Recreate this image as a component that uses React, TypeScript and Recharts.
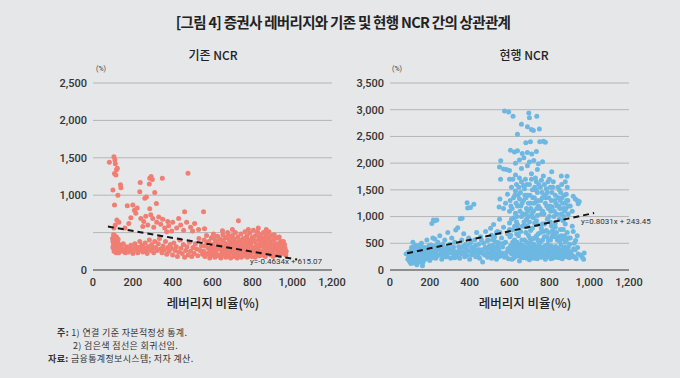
import React from "react";
import {
  ScatterChart,
  Scatter,
  XAxis,
  YAxis,
  CartesianGrid,
} from "recharts";

// 레버리지 비율(%) vs 기존 NCR(%)
const oldNcrPoints: [number, number][] = [
  [82, 1440], [105, 1515], [110, 1470], [112, 1420], [118, 1340], [108, 1290], [115, 1270], [122, 1360],
  [100, 1070], [125, 1000], [140, 1100], [138, 1140], [108, 870], [120, 670], [112, 600], [130, 640], [105, 560],
  [172, 860], [200, 870], [208, 800], [222, 830], [215, 760], [235, 1047], [237, 1170], [260, 960], [268, 975],
  [285, 1227], [292, 1250], [298, 1210], [283, 1150], [310, 1035], [318, 890], [285, 820], [290, 740], [300, 690],
  [330, 710], [348, 1225], [477, 1292], [460, 780], [555, 780], [730, 660], [650, 525], [240, 690], [255, 650],
  [265, 720], [275, 600], [320, 640], [340, 610], [360, 560], [380, 590], [400, 640], [420, 560], [440, 600],
  [470, 640], [490, 570], [510, 620], [530, 540], [250, 580], [350, 680], [375, 650], [395, 520], [455, 530],
  [500, 520], [430, 690], [190, 700], [180, 620], [160, 560], [305, 570], [370, 510],
  [98, 420], [100, 380], [102, 330], [104, 290], [106, 250], [108, 460], [110, 400], [112, 350], [114, 300],
  [115, 260], [116, 230], [118, 440], [120, 370], [121, 320], [123, 280], [125, 240], [126, 410], [128, 350],
  [130, 300], [132, 270], [103, 470], [107, 350], [113, 420], [119, 270], [124, 390], [129, 230], [134, 330],
  [136, 280], [100, 300], [111, 250],
  [142, 300], [148, 250], [152, 350], [158, 270], [162, 230], [168, 310], [172, 260], [178, 240], [185, 290],
  [190, 330], [195, 260], [200, 220], [205, 280], [210, 350], [215, 310], [220, 260], [225, 230], [230, 300],
  [235, 380], [240, 270], [245, 330], [250, 240], [255, 300], [262, 360], [268, 270], [272, 220], [278, 310],
  [283, 400], [290, 260], [295, 340], [300, 290],
  [305, 230], [310, 380], [316, 300], [322, 260], [328, 350], [334, 420], [340, 280], [346, 230], [352, 320],
  [358, 270], [364, 380], [370, 210], [376, 300], [382, 250], [388, 340], [394, 290], [400, 200], [406, 360],
  [412, 260], [418, 310], [424, 180], [430, 240], [436, 400], [442, 290], [448, 220], [454, 340], [460, 170],
  [466, 260], [472, 310], [478, 200], [484, 370], [490, 250], [496, 180], [502, 300], [508, 220], [514, 350],
  [520, 280], [526, 190], [532, 420], [538, 260], [544, 320], [550, 210],
  [555, 250], [558, 400], [562, 180], [566, 330], [570, 460], [574, 220], [578, 290], [582, 380], [586, 160],
  [590, 270], [594, 430], [598, 200], [602, 340], [605, 480], [608, 250], [612, 170], [615, 390], [618, 300],
  [622, 210], [625, 450], [628, 350], [632, 190], [635, 280], [638, 410], [642, 160], [645, 320], [648, 240],
  [652, 470], [655, 380], [658, 200], [661, 290], [664, 430], [667, 170], [670, 350], [673, 250], [676, 500],
  [679, 310], [682, 190], [685, 400], [688, 270], [691, 160], [694, 360], [697, 230], [700, 460],
  [703, 320], [706, 180], [709, 410], [712, 270], [715, 500], [718, 220], [721, 350], [724, 160], [727, 440],
  [730, 300], [733, 200], [736, 380], [739, 260], [742, 480], [745, 170], [748, 340],
  [751, 230], [754, 420], [757, 300], [760, 190], [763, 510], [766, 360], [769, 250], [772, 450], [775, 170],
  [778, 320], [781, 400], [784, 220], [787, 490], [790, 280], [793, 350], [796, 180], [799, 430],
  [802, 300], [805, 530], [808, 240], [811, 380], [814, 170], [817, 460], [820, 330], [823, 210], [826, 510],
  [829, 280], [832, 400], [835, 190], [838, 350], [841, 470], [844, 250], [847, 320],
  [850, 420], [853, 200], [856, 500], [859, 300], [862, 370], [865, 180], [868, 450], [871, 260], [874, 340],
  [877, 410], [880, 220], [883, 510], [886, 290], [889, 380], [892, 200], [895, 330], [898, 460],
  [902, 250], [906, 400], [910, 300], [914, 200], [918, 350], [922, 270], [926, 430], [930, 230], [934, 310],
  [938, 190], [942, 380], [946, 260], [952, 320], [958, 220], [964, 290], [970, 250],
  [560, 320], [572, 370], [584, 230], [596, 310], [606, 420], [616, 230], [626, 280], [636, 340], [646, 400],
  [656, 260], [666, 320], [676, 220], [686, 330], [696, 290], [706, 370], [716, 300], [726, 240], [736, 320],
  [746, 400], [756, 250], [766, 300], [776, 380], [786, 330], [796, 260], [806, 440], [816, 280], [826, 230],
  [836, 430], [846, 380], [856, 240], [866, 310], [876, 250], [886, 440], [896, 270], [906, 340], [916, 420],
  [926, 310], [936, 360], [946, 300], [956, 380], [580, 210], [610, 270], [640, 200], [670, 430], [700, 260],
  [730, 380], [760, 410], [790, 210], [820, 260], [850, 340], [880, 300], [910, 470], [940, 240], [665, 210],
  [695, 410], [725, 340], [755, 190], [785, 300], [815, 390], [845, 200], [875, 480], [905, 180], [935, 440],
  [620, 380], [650, 310], [680, 460], [710, 230], [740, 300], [770, 200], [800, 380], [830, 310], [860, 430],
  [890, 250], [920, 200], [962, 340], [968, 200], [560, 550], [780, 540], [830, 560], [870, 540], [700, 540],
];

// 레버리지 비율(%) vs 현행 NCR(%)
const newNcrPoints: [number, number][] = [
  [575, 2977], [596, 2958], [618, 2880], [697, 2940], [700, 2850], [737, 2880], [660, 2730], [690, 2680],
  [710, 2630], [750, 2640], [720, 2610], [640, 2540], [682, 2380], [705, 2400], [752, 2400], [770, 2410],
  [780, 2390], [625, 2210], [640, 2230], [605, 2240], [664, 2180], [690, 2200], [712, 2170], [735, 2220],
  [766, 2025], [556, 2043], [550, 1930], [570, 1890], [585, 1880], [600, 1860], [630, 2000], [650, 2060],
  [672, 2100], [700, 2020], [722, 2050], [745, 1990], [690, 1950], [660, 1900], [740, 1880], [812, 1840],
  [860, 1760], [889, 1757], [630, 1780], [710, 1800], [770, 1760], [800, 1700], [650, 1720], [680, 1700],
  [730, 1720], [600, 1700],
  [555, 1700], [548, 1180], [552, 1330], [580, 1250], [590, 1420], [610, 1550], [620, 1350], [635, 1600],
  [640, 1200], [655, 1450], [660, 1650], [670, 1300], [675, 1520], [685, 1150], [690, 1400], [700, 1600],
  [705, 1250], [715, 1500], [720, 1100], [725, 1350], [735, 1650], [740, 1450], [745, 1200], [755, 1550],
  [760, 1050], [765, 1350], [775, 1600], [780, 1250], [790, 1450], [795, 1150], [805, 1550], [810, 1300],
  [820, 1650], [825, 1100], [830, 1400], [840, 1200], [850, 1500], [855, 1300], [862, 1600], [870, 1150],
  [875, 1400], [880, 1250], [890, 1550], [895, 1050], [905, 1200], [920, 1380], [930, 1330], [940, 1300],
  [945, 1240], [950, 1280], [915, 1100], [860, 1050], [800, 1000], [740, 1020], [680, 1050], [630, 1060],
  [600, 1100], [570, 1150], [650, 1330], [710, 1700], [760, 1680], [630, 1480], [695, 1250], [845, 1350],
  [885, 1420], [735, 1280], [670, 1580], [785, 1520], [815, 1180], [880, 1650],
  [603, 1300], [613, 1150], [623, 980], [633, 1250], [643, 1400], [653, 1100], [663, 1250], [673, 900],
  [683, 1350], [693, 1100], [703, 1400], [713, 1050], [723, 1250], [733, 1500], [743, 1300], [753, 1150],
  [763, 1450], [773, 1050], [783, 1350], [793, 1650], [803, 1200], [813, 1450], [823, 1000], [833, 1250],
  [843, 1550], [853, 1150], [863, 1350], [873, 1000], [883, 1150], [893, 1300],
  [607, 1200], [617, 1700], [627, 1400], [637, 1000], [647, 1550], [657, 1200], [667, 1050], [677, 1400],
  [687, 1600], [697, 1000], [707, 1150], [717, 1350], [727, 1550], [737, 1150], [747, 1600], [757, 1300],
  [767, 1100], [777, 1400], [787, 1200], [797, 1350], [807, 1100], [817, 1550], [827, 1300], [837, 1050],
  [847, 1200], [857, 1450], [867, 1250], [877, 1100], [887, 1300], [897, 1200],
  [505, 400], [510, 650], [515, 280], [520, 850], [525, 300], [530, 520], [535, 200], [540, 720], [545, 380],
  [550, 950], [555, 260], [560, 600], [565, 430], [570, 800], [575, 240], [580, 520], [585, 330], [590, 680],
  [595, 210], [600, 880], [605, 450], [610, 300], [615, 750], [620, 220], [625, 560], [630, 380], [635, 900],
  [640, 260], [645, 640], [650, 170], [655, 480], [660, 340], [665, 820], [670, 230], [675, 560], [680, 420],
  [685, 950], [690, 280], [695, 650], [700, 190], [705, 520], [710, 360], [715, 780], [720, 250], [725, 600],
  [730, 440], [735, 920], [740, 210], [745, 680], [750, 320], [755, 520], [760, 240], [765, 860], [770, 400],
  [775, 620], [780, 200], [785, 740], [790, 340], [795, 560], [800, 260], [805, 900], [810, 450], [815, 220],
  [820, 680], [825, 330], [830, 800], [835, 240], [840, 560], [845, 400], [850, 950], [855, 280], [860, 640],
  [865, 210], [870, 760], [875, 360], [880, 520], [885, 250], [890, 700], [895, 420], [900, 230], [905, 600],
  [910, 340], [915, 820], [920, 260], [925, 500], [930, 380], [935, 210], [940, 640], [945, 300], [955, 280],
  [965, 240], [975, 317], [972, 200],
  [512, 350], [522, 600], [532, 250], [542, 450], [552, 700], [562, 320], [572, 500], [582, 260], [592, 400],
  [602, 620], [612, 200], [622, 460], [632, 300], [642, 780], [652, 350], [662, 560], [672, 280], [682, 700],
  [692, 400], [702, 600], [712, 220], [722, 480], [732, 320], [742, 560], [752, 260], [762, 420], [772, 720],
  [782, 300], [792, 480], [802, 360], [812, 620], [822, 240], [832, 440], [842, 300], [852, 540], [862, 380],
  [872, 260], [882, 420], [892, 320], [902, 480], [912, 250], [922, 400], [932, 550], [942, 420], [618, 400],
  [638, 520], [658, 240], [678, 380], [698, 300], [718, 430], [738, 280], [758, 380], [778, 450], [798, 410],
  [818, 300], [838, 370], [858, 470], [878, 300], [898, 340], [628, 250], [648, 420], [668, 460], [688, 220],
  [708, 270], [728, 220], [748, 470], [768, 300], [788, 250], [808, 210], [828, 280], [848, 230], [868, 330],
  [888, 380], [908, 290], [928, 240], [610, 950], [660, 1000], [700, 900], [740, 850], [790, 950], [830, 880],
  [870, 920], [640, 850], [720, 980], [760, 780], [810, 830], [880, 860], [920, 720], [690, 820], [600, 760],
  [606, 650], [616, 520], [626, 820], [636, 680], [646, 300], [656, 720], [666, 380], [676, 840], [686, 520],
  [696, 460], [706, 740], [716, 580], [726, 880], [736, 640], [746, 540], [756, 700], [766, 560], [776, 860],
  [786, 620], [796, 700], [806, 560], [816, 740], [826, 620], [836, 700], [846, 620], [856, 760], [866, 580],
  [876, 640], [886, 560], [896, 600],
  [604, 330], [614, 390], [624, 330], [634, 450], [644, 360], [654, 290], [664, 400], [674, 330], [684, 310],
  [694, 350], [704, 420], [714, 310], [724, 370], [734, 400], [744, 350], [754, 420], [764, 330], [774, 280],
  [784, 380], [794, 320], [804, 300], [814, 360], [824, 400], [834, 330], [844, 270], [854, 330], [864, 280],
  [874, 420], [884, 330], [894, 270],
  [81, 300], [90, 200], [95, 250], [100, 150], [102, 350], [105, 120], [108, 420], [110, 280], [112, 180],
  [115, 520], [118, 240], [120, 380], [122, 130], [125, 300], [128, 460], [130, 200], [132, 350], [135, 100],
  [138, 270], [140, 420], [142, 180], [145, 320], [148, 240], [150, 150], [155, 380], [158, 500], [160, 260],
  [163, 80], [165, 330], [170, 200], [175, 420], [180, 300], [185, 560], [190, 240], [195, 380], [200, 180],
  [205, 470], [210, 870], [218, 935], [225, 920], [235, 935], [215, 600], [220, 300], [225, 450], [230, 220],
  [235, 380], [240, 520], [245, 280], [250, 640], [255, 350], [260, 200], [265, 480], [270, 300], [275, 560],
  [280, 250], [285, 420], [290, 700], [295, 330], [300, 480], [305, 220], [310, 600], [315, 380], [320, 280],
  [325, 520], [330, 750], [335, 300], [340, 790], [345, 440], [350, 220], [353, 960], [360, 560], [362, 970],
  [365, 330], [370, 680], [375, 250], [380, 480], [385, 380], [387, 1258], [390, 1160], [395, 600], [400, 200],
  [404, 1170], [410, 420], [415, 320], [421, 1230], [425, 560], [430, 250], [435, 700], [440, 380], [445, 480],
  [450, 220], [455, 620], [460, 330], [465, 150], [470, 500], [475, 280], [480, 720], [485, 400], [490, 240],
  [495, 560], [500, 320], [505, 780], [510, 220], [515, 460], [520, 330], [525, 620], [530, 270], [535, 700],
  [540, 400], [545, 250], [550, 500],
  [105, 220], [115, 330], [125, 180], [135, 250], [145, 460], [155, 210], [165, 140], [175, 300], [185, 220],
  [195, 450], [205, 320], [215, 230], [225, 580], [245, 400], [265, 260], [285, 320], [305, 400], [325, 230],
  [345, 330], [365, 440], [385, 270], [405, 510], [425, 330], [445, 300], [465, 380], [485, 320], [505, 280],
  [525, 420], [545, 330],
  [92, 330], [97, 180], [103, 270], [109, 340], [113, 230], [117, 430], [121, 200], [127, 270], [133, 420],
  [139, 200], [147, 370], [153, 280], [161, 420], [167, 250], [173, 370], [179, 200], [187, 330], [193, 280],
  [199, 400], [209, 260], [219, 380], [229, 320], [239, 270], [249, 460], [259, 330], [269, 400], [279, 360],
  [289, 250], [299, 380], [309, 320], [319, 430], [329, 340], [339, 250], [349, 380], [359, 300], [369, 420],
  [379, 320], [389, 460], [399, 350], [409, 280], [419, 400], [429, 460], [439, 250], [449, 380], [459, 560],
  [469, 300], [479, 420], [489, 550], [499, 450], [509, 380], [519, 560], [529, 400], [539, 520], [549, 300],
];

const xTicks = [0, 200, 400, 600, 800, 1000, 1200];
const oldYTicks = [0, 500, 1000, 1500, 2000, 2500];
const newYTicks = [0, 500, 1000, 1500, 2000, 2500, 3000, 3500];

// 회귀선: y = slope * x + intercept
const oldTrend = { slope: -0.4634, intercept: 615.07, from: 75, to: 1025 };
const newTrend = { slope: 0.8031, intercept: 243.45, from: 86, to: 1025 };

const KR = '"Noto Sans CJK KR", "Noto Sans", sans-serif';
const NUM = 'Roboto, "Noto Sans", sans-serif';

const toRows = (pts: [number, number][]) => pts.map(([x, y]) => ({ x, y }));
const fmt = (v: number) => v.toLocaleString("en-US");

const Dot = (color: string) => (p: any) =>
  <circle cx={p.cx} cy={p.cy} r={2.5} fill={color} />;

type PanelProps = {
  points: [number, number][];
  yTicks: number[];
  yMax: number;
  color: string;
  trend: { slope: number; intercept: number; from: number; to: number };
  hide500?: boolean;
};

const Panel = ({ points, yTicks, yMax, color, trend, hide500 }: PanelProps) => {
  const tick = { fontFamily: NUM, fontSize: 11, fontWeight: 500, fill: "#333" };
  const trendRows = [trend.from, trend.to].map((x) => ({ x, y: trend.slope * x + trend.intercept }));
  return (
    <ScatterChart width={350} height={240} margin={{ top: 23, right: 18, bottom: 0, left: 0 }}>
      <CartesianGrid vertical={false} stroke="#b5b5b5" />
      <XAxis
        type="number"
        dataKey="x"
        domain={[0, 1200]}
        ticks={xTicks}
        tickFormatter={fmt}
        tickLine={false}
        axisLine={{ stroke: "#8e8e8e", strokeWidth: 2 }}
        tick={tick}
        height={30}
        interval={0}
      />
      <YAxis
        type="number"
        dataKey="y"
        domain={[0, yMax]}
        ticks={yTicks}
        tickFormatter={(v: number) => (hide500 && v === 500 ? "" : fmt(v))}
        tickLine={false}
        axisLine={false}
        tick={tick}
        tickSize={4}
        width={93}
        interval={0}
      />
      <Scatter data={toRows(points)} shape={Dot(color)} isAnimationActive={false} />
      <Scatter
        data={trendRows}
        shape={() => <g />}
        line={{ stroke: "#151515", strokeWidth: 2, strokeDasharray: "6 4" }}
        isAnimationActive={false}
      />
    </ScatterChart>
  );
};

const abs = (left: number, top: number, extra: React.CSSProperties = {}): React.CSSProperties => ({
  position: "absolute",
  left,
  top,
  whiteSpace: "nowrap",
  ...extra,
});

const note: React.CSSProperties = { fontSize: 9, lineHeight: "11px", color: "#333", letterSpacing: 0.35 };

export default function App() {
  return (
    <div
      style={{
        position: "absolute",
        left: 0,
        top: 0,
        width: 680,
        height: 378,
        background: "#e6e7e9",
        fontFamily: KR,
        color: "#222",
        overflow: "hidden",
      }}
    >
      <div style={abs(0, 11, { width: 686, textAlign: "center", fontSize: 14.5, fontWeight: 700, letterSpacing: -0.7 })}>
        [그림 4] 증권사 레버리지와 기존 및 현행 NCR 간의 상관관계
      </div>

      <div style={abs(113, 46, { width: 200, textAlign: "center", fontSize: 12, fontWeight: 500 })}>기존 NCR</div>
      <div style={abs(424, 46, { width: 200, textAlign: "center", fontSize: 12, fontWeight: 500 })}>현행 NCR</div>

      <div style={abs(96, 65, { fontSize: 7, fontFamily: NUM, color: "#444" })}>(%)</div>
      <div style={abs(392, 65, { fontSize: 7, fontFamily: NUM, color: "#444" })}>(%)</div>

      <div style={abs(0, 60)}>
        <Panel points={oldNcrPoints} yTicks={oldYTicks} yMax={2500} color="#f07e73" trend={oldTrend} hide500 />
      </div>
      <div style={abs(297, 60)}>
        <Panel points={newNcrPoints} yTicks={newYTicks} yMax={3500} color="#6db8e2" trend={newTrend} />
      </div>

      <div style={abs(250, 257, { fontSize: 8, fontFamily: NUM, color: "#333" })}>y=-0.4634x + 615.07</div>
      <div style={abs(581, 217, { fontSize: 8, fontFamily: NUM, color: "#333" })}>y=0.8031x + 243.45</div>

      <div style={abs(113, 293, { width: 200, textAlign: "center", fontSize: 12.5, fontWeight: 500 })}>레버리지 비율(%)</div>
      <div style={abs(410, 293, { width: 230, textAlign: "center", fontSize: 12.5, fontWeight: 500 })}>레버리지 비율(%)</div>

      <div style={abs(57, 327, note)}>
        <b>주:</b> 1) 연결 기준 자본적정성 통계.
      </div>
      <div style={abs(73, 340, note)}>2) 검은색 점선은 회귀선임.</div>
      <div style={abs(48, 353, note)}>
        <b>자료:</b> 금융통계정보시스템; 저자 계산.
      </div>
    </div>
  );
}
